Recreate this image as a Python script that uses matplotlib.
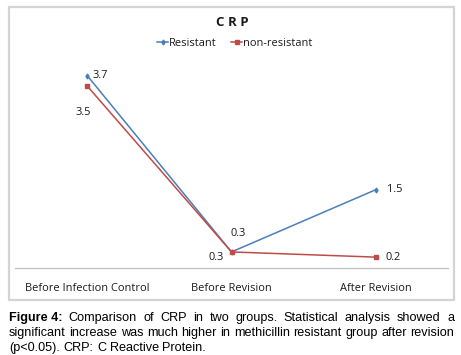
import matplotlib
matplotlib.use("Agg")
import matplotlib.pyplot as plt
from matplotlib.patches import Rectangle
from matplotlib.lines import Line2D

# data
stages = ["Before Infection Control", "Before Revision", "After Revision"]
resistant = [3.7, 0.3, 1.5]
non_resistant = [3.5, 0.3, 0.2]

caption_lines = [
    "Comparison of CRP in two groups. Statistical analysis showed a",
    "significant increase was much higher in methicillin resistant group after revision",
    "(p<0.05). CRP: C Reactive Protein.",
]

BLUE = "#4a7ebb"
RED = "#be4b48"
W, H = 461, 355

fig = plt.figure(figsize=(W / 100, H / 100), dpi=100)
fig.patch.set_facecolor("white")

def fx(px):
    return px / W

def fy(py):
    return 1 - py / H

# chart frame
fig.patches.append(Rectangle((fx(9), fy(300)), fx(445), (300 - 7) / H,
                             transform=fig.transFigure, fill=False,
                             edgecolor="#d4d4d4", linewidth=1.6))

chart_font = ["Open Sans", "DejaVu Sans"]
fs = 7.9

ax = fig.add_axes([fx(15), fy(267.5), fx(433), (267.5 - 60) / H])
x = range(len(stages))
ax.plot(x, resistant, color=BLUE, lw=1.1, marker="d", ms=2.5, label="Resistant")
ax.plot(x, non_resistant, color=RED, lw=1.1, marker="s", ms=3, label="non-resistant")
ax.set_xlim(-0.5, 2.5)
ax.set_ylim(0, 4)
ax.set_yticks([])
ax.set_xticks(list(x))
ax.set_xticklabels(stages, family=chart_font, fontsize=fs, color="#1a1a1a")
ax.tick_params(axis="x", length=0, pad=11)
for s in ["top", "right", "left"]:
    ax.spines[s].set_visible(False)
ax.spines["bottom"].set_color("#c0c0c0")
ax.spines["bottom"].set_linewidth(0.9)

# data labels
lab_kw = dict(family=chart_font, fontsize=fs, color="#1a1a1a", va="center")
ax.annotate(f"{resistant[0]}", (0, resistant[0]), xytext=(4, 0), textcoords="offset points", ha="left", **lab_kw)
ax.annotate(f"{non_resistant[0]}", (0, non_resistant[0]), xytext=(-3, -19), textcoords="offset points", ha="center", **lab_kw)
ax.annotate(f"{resistant[1]}", (1, resistant[1]), xytext=(5, 13), textcoords="offset points", ha="center", **lab_kw)
ax.annotate(f"{non_resistant[1]}", (1, non_resistant[1]), xytext=(-11, -4), textcoords="offset points", ha="center", **lab_kw)
ax.annotate(f"{resistant[2]}", (2, resistant[2]), xytext=(8, 0), textcoords="offset points", ha="left", **lab_kw)
ax.annotate(f"{non_resistant[2]}", (2, non_resistant[2]), xytext=(7, 0), textcoords="offset points", ha="left", **lab_kw)

fig.text(fx(232), fy(22), "C R P", family=chart_font, fontsize=9.5, fontweight="bold",
         ha="center", va="center", color="#1a1a1a")

handles = [Line2D([], [], color=BLUE, lw=1.1, marker="d", ms=2.5),
           Line2D([], [], color=RED, lw=1.1, marker="s", ms=3)]
fig.legend(handles, ["Resistant", "non-resistant"], loc="center", bbox_to_anchor=(fx(235), fy(43)),
           ncol=2, frameon=False, handlelength=1.0, handletextpad=0.1, columnspacing=1.3,
           prop={"family": chart_font, "size": fs}, labelcolor="#1a1a1a")

# caption with justified lines
cap_font = ["Liberation Sans", "DejaVu Sans"]
cap_size = 9.1
renderer = fig.canvas.get_renderer()
left, right = 9, 454
line_y = [318, 333, 348]

def measure(t):
    bb = t.get_window_extent(renderer=renderer)
    return bb.width

for i, line in enumerate(caption_lines):
    words = line.split(" ")
    items = []
    if i == 0:
        items.append(("Figure 4:", "bold"))
    items += [(w, "normal") for w in words]
    texts = [fig.text(0, fy(line_y[i]), w, family=cap_font, fontsize=cap_size,
                      fontweight=wt, ha="left", va="center", color="black")
             for w, wt in items]
    widths = [measure(t) for t in texts]
    if i < len(caption_lines) - 1:
        gap = (right - left - sum(widths)) / (len(texts) - 1)
    else:
        t1 = fig.text(0, 0, "a b", family=cap_font, fontsize=cap_size)
        t2 = fig.text(0, 0, "ab", family=cap_font, fontsize=cap_size)
        gap = measure(t1) - measure(t2)
        t1.remove()
        t2.remove()
    pos = left
    for t, w in zip(texts, widths):
        t.set_x(fx(pos))
        pos += w + gap

fig.savefig("out.png", dpi=100)
